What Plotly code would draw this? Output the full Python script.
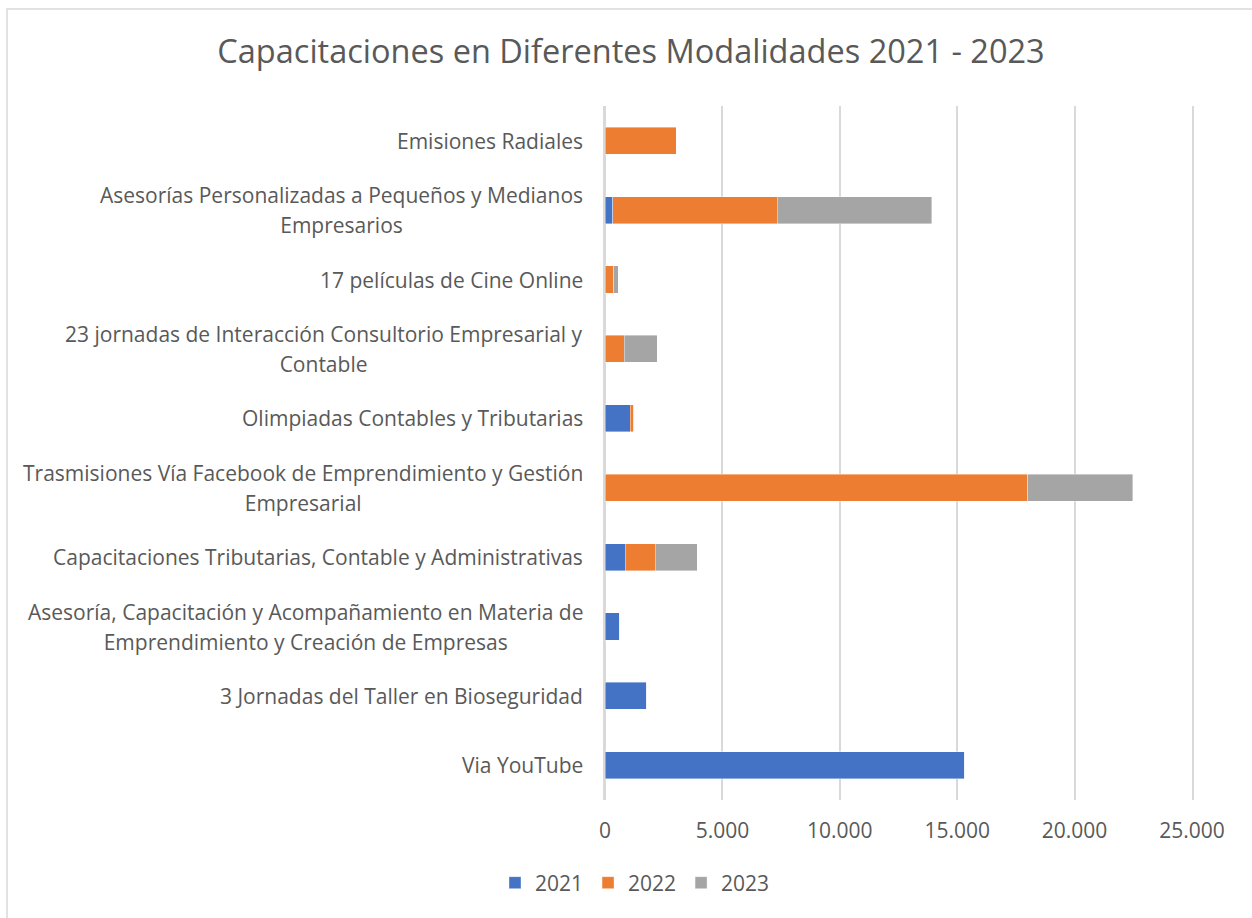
import plotly.graph_objects as go

categories = [
    "Via YouTube",
    "3 Jornadas del Taller en Bioseguridad",
    "Asesoría, Capacitación y Acompañamiento en Materia de Emprendimiento y Creación de Empresas",
    "Capacitaciones Tributarias, Contable y Administrativas",
    "Trasmisiones Vía Facebook de Emprendimiento y Gestión Empresarial",
    "Olimpiadas Contables y Tributarias",
    "23 jornadas de Interacción Consultorio Empresarial y Contable",
    "17 películas de Cine Online",
    "Asesorías Personalizadas a Pequeños y Medianos Empresarios",
    "Emisiones Radiales",
]
label_lines = [
    ["Via YouTube"],
    ["3 Jornadas del Taller en Bioseguridad"],
    ["Asesoría, Capacitación y Acompañamiento en Materia de", "Emprendimiento y Creación de Empresas"],
    ["Capacitaciones Tributarias, Contable y Administrativas"],
    ["Trasmisiones Vía Facebook de Emprendimiento y Gestión", "Empresarial"],
    ["Olimpiadas Contables y Tributarias"],
    ["23 jornadas de Interacción Consultorio Empresarial y", "Contable"],
    ["17 películas de Cine Online"],
    ["Asesorías Personalizadas a Pequeños y Medianos", "Empresarios"],
    ["Emisiones Radiales"],
]
series_names = ["2021", "2022", "2023"]
v2021 = [15330, 1776, 625, 866, 0, 1065, 0, 0, 327, 0]
v2022 = [0, 0, 0, 1277, 18000, 157, 810, 369, 7000, 3040]
v2023 = [0, 0, 0, 1793, 4480, 0, 1406, 199, 6590, 0]
colors = ["#4472C4", "#ED7D31", "#A5A5A5"]
x_ticks = [0, 5000, 10000, 15000, 20000, 25000]
x_tick_labels = ["0", "5.000", "10.000", "15.000", "20.000", "25.000"]

FONT = "Open Sans"
GREY = "#595959"
GRID = "#D9D9D9"
LABEL_SIZE = 21

fig = go.Figure()
for name, vals, col in zip(series_names, [v2021, v2022, v2023], colors):
    fig.add_trace(go.Bar(
        y=categories, x=vals, name=name, orientation="h",
        marker=dict(color=col, line=dict(color="rgba(255,255,255,0.5)", width=0.8)),
    ))

annotations = []
for cat, lines in zip(categories, label_lines):
    txt = "<br>".join('<span style="font-size:%dpx">%s</span>' % (LABEL_SIZE, l) for l in lines)
    annotations.append(dict(
        x=0, xref="paper", y=cat, yref="y", xanchor="right", yanchor="middle",
        xshift=-20, text=txt, showarrow=False, align="center",
        font=dict(family=FONT, size=23, color=GREY),
    ))

fig.update_layout(
    width=1252, height=918,
    barmode="stack", bargap=0.61,
    paper_bgcolor="white", plot_bgcolor="white",
    margin=dict(l=605, r=60, t=106, b=118),
    font=dict(family=FONT, color=GREY, size=LABEL_SIZE),
    title=dict(text="Capacitaciones en Diferentes Modalidades 2021 - 2023",
               x=631 / 1252, xref="container", xanchor="center",
               y=1 - 52 / 918, yref="container", yanchor="middle",
               font=dict(family=FONT, size=32.5, color=GREY)),
    xaxis=dict(range=[0, 25000], tickvals=x_ticks, ticktext=x_tick_labels,
               showgrid=True, gridcolor=GRID, gridwidth=2,
               zeroline=True, zerolinecolor=GRID, zerolinewidth=2,
               showline=False, ticks="", ticklabelstandoff=16,
               tickfont=dict(family=FONT, size=LABEL_SIZE, color=GREY)),
    yaxis=dict(categoryorder="array", categoryarray=categories, showticklabels=False,
               showgrid=False, zeroline=False, ticks="",
               showline=True, mirror=True, linecolor=GRID, linewidth=2),
    legend=dict(orientation="h", xref="container", yref="container",
                x=635 / 1252, xanchor="center", y=1 - 883 / 918, yanchor="middle",
                font=dict(family=FONT, size=LABEL_SIZE, color=GREY), traceorder="normal"),
    annotations=annotations,
    shapes=[dict(type="rect", xref="paper", yref="paper",
                 x0=(7 - 605) / 587, x1=(1275 - 605) / 587,
                 y0=-0.3, y1=1 + (106 - 9) / 694,
                 line=dict(color=GRID, width=1.5), fillcolor="rgba(0,0,0,0)", layer="below")],
)

fig.write_html("out.html", config={"displayModeBar": False},
               post_script="document.body.style.margin='0';")
